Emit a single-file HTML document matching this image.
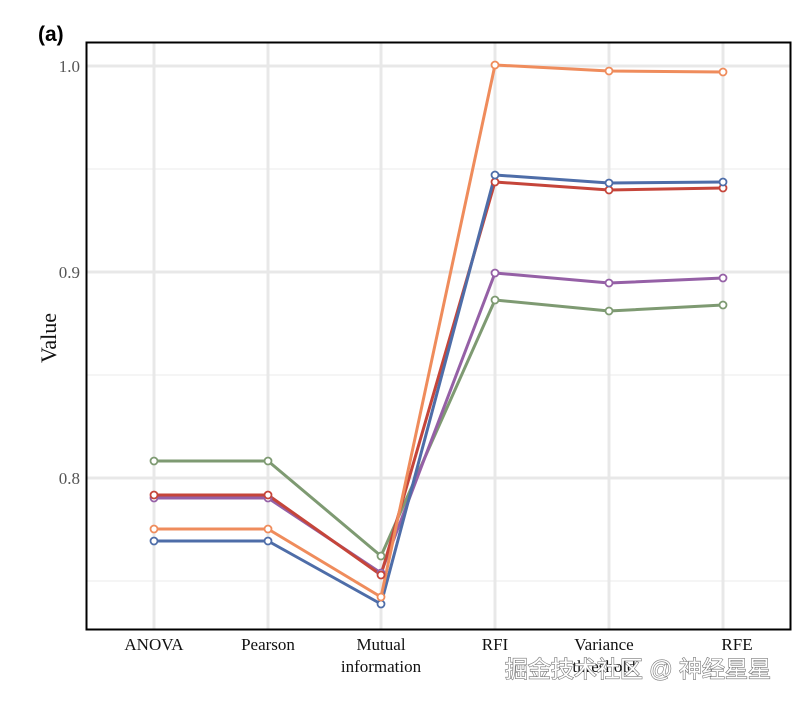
<!DOCTYPE html>
<html><head><meta charset="utf-8"><style>body{margin:0;background:#fff}svg{display:block}</style></head><body>
<svg width="801" height="703" xmlns="http://www.w3.org/2000/svg" font-family="Liberation Serif, serif">
<rect width="801" height="703" fill="#fff"/>
<g stroke="#ebebeb" stroke-width="1">
<line x1="87" x2="790" y1="169" y2="169"/><line x1="87" x2="790" y1="375" y2="375"/><line x1="87" x2="790" y1="581" y2="581"/>
</g>
<g stroke="#e8e8e8" stroke-width="3">
<line x1="87" x2="790" y1="66" y2="66"/><line x1="87" x2="790" y1="272" y2="272"/><line x1="87" x2="790" y1="478" y2="478"/>
<line x1="154" x2="154" y1="43" y2="629"/><line x1="268" x2="268" y1="43" y2="629"/><line x1="381" x2="381" y1="43" y2="629"/>
<line x1="495" x2="495" y1="43" y2="629"/><line x1="609" x2="609" y1="43" y2="629"/><line x1="723" x2="723" y1="43" y2="629"/>
</g>
<g fill="none" stroke-width="3" stroke-linejoin="round">
<polyline stroke="#7e9a72" points="154,461 268,461 381,556 495,300 609,311 723,305"/>
<polyline stroke="#9560a6" points="154,498 268,498 381,573 495,273 609,283 723,278"/>
<polyline stroke="#c5453a" points="154,495 268,495 381,575 495,182 609,190 723,188"/>
<polyline stroke="#4e6da8" points="154,541 268,541 381,604 495,175 609,183 723,182"/>
<polyline stroke="#ef8c5c" points="154,529 268,529 381,597 495,65 609,71 723,72"/>
</g>
<g fill="#fff" stroke-width="1.8">
<g stroke="#7e9a72"><circle cx="154" cy="461" r="3.5"/><circle cx="268" cy="461" r="3.5"/><circle cx="381" cy="556" r="3.5"/><circle cx="495" cy="300" r="3.5"/><circle cx="609" cy="311" r="3.5"/><circle cx="723" cy="305" r="3.5"/></g>
<g stroke="#9560a6"><circle cx="154" cy="498" r="3.5"/><circle cx="268" cy="498" r="3.5"/><circle cx="381" cy="573" r="3.5"/><circle cx="495" cy="273" r="3.5"/><circle cx="609" cy="283" r="3.5"/><circle cx="723" cy="278" r="3.5"/></g>
<g stroke="#c5453a"><circle cx="154" cy="495" r="3.5"/><circle cx="268" cy="495" r="3.5"/><circle cx="381" cy="575" r="3.5"/><circle cx="495" cy="182" r="3.5"/><circle cx="609" cy="190" r="3.5"/><circle cx="723" cy="188" r="3.5"/></g>
<g stroke="#4e6da8"><circle cx="154" cy="541" r="3.5"/><circle cx="268" cy="541" r="3.5"/><circle cx="381" cy="604" r="3.5"/><circle cx="495" cy="175" r="3.5"/><circle cx="609" cy="183" r="3.5"/><circle cx="723" cy="182" r="3.5"/></g>
<g stroke="#ef8c5c"><circle cx="154" cy="529" r="3.5"/><circle cx="268" cy="529" r="3.5"/><circle cx="381" cy="597" r="3.5"/><circle cx="495" cy="65" r="3.5"/><circle cx="609" cy="71" r="3.5"/><circle cx="723" cy="72" r="3.5"/></g>
</g>
<rect x="86.5" y="42.5" width="704" height="587" fill="none" stroke="#000" stroke-width="2"/>
<text x="38" y="41" font-family="Liberation Sans, sans-serif" font-weight="bold" font-size="21">(a)</text>
<g font-size="17" fill="#555" text-anchor="end">
<text x="80" y="72">1.0</text><text x="80" y="278">0.9</text><text x="80" y="484">0.8</text>
</g>
<text transform="translate(56,338) rotate(-90)" font-size="22" text-anchor="middle" fill="#111">Value</text>
<g font-size="17" fill="#111" text-anchor="middle">
<text x="154" y="650">ANOVA</text><text x="268" y="650">Pearson</text>
<text x="381" y="650">Mutual</text><text x="381" y="672">information</text>
<text x="495" y="650">RFI</text><text x="604" y="650">Variance</text><text x="604" y="672">threshold</text>
<text x="737" y="650">RFE</text>
</g>
<text x="638" y="677" text-anchor="middle" font-family="Liberation Sans, Noto Sans CJK SC, sans-serif" font-size="23" fill="#fff" stroke="#777" stroke-width="1.2" paint-order="stroke">掘金技术社区 @ 神经星星</text>
</svg>
</body></html>
